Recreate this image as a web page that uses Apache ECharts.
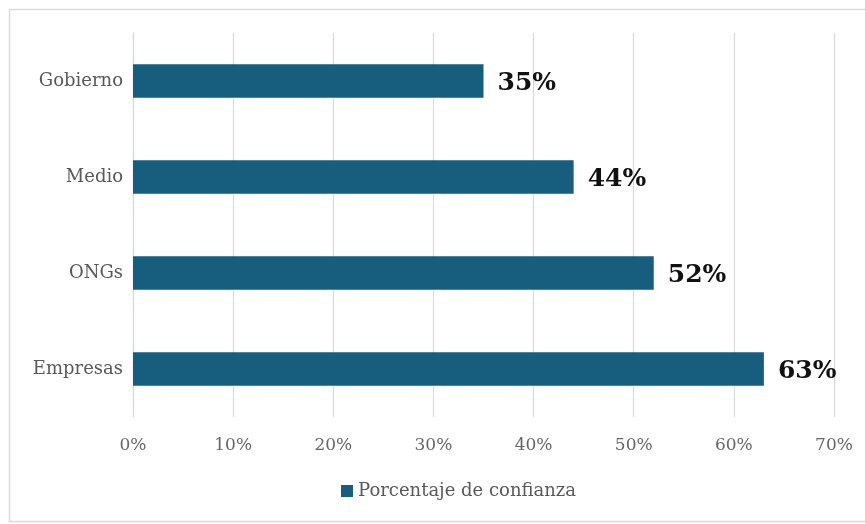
<!DOCTYPE html>
<html><head><meta charset="utf-8">
<script src="https://cdn.jsdelivr.net/npm/echarts@6/dist/echarts.min.js"></script>
<style>html,body{margin:0;padding:0;background:#fff}#c{width:865px;height:524px}</style>
</head><body><div id="c"></div>
<script>
const categories = ['Empresas', 'ONGs', 'Medio', 'Gobierno'];
const values = [63, 52, 44, 35];
const tickLabels = ['0%', '10%', '20%', '30%', '40%', '50%', '60%', '70%'];
const seriesName = 'Porcentaje de confianza';

const chart = echarts.init(document.getElementById('c'));
chart.setOption({
  animation: false,
  backgroundColor: '#fff',
  graphic: [{
    type: 'rect', left: 7, top: 7,
    shape: { width: 870, height: 512 },
    style: { fill: 'none', stroke: '#d9d9d9', lineWidth: 1.5 }
  }],
  legend: {
    data: [seriesName], bottom: 19, left: 336,
    icon: 'rect', itemWidth: 12, itemHeight: 12, itemGap: 4,
    textStyle: { fontFamily: 'DejaVu Serif', fontSize: 18, color: '#595959' }
  },
  grid: { left: 133, right: 31, top: 33, bottom: 107, containLabel: false },
  xAxis: {
    type: 'value', min: 0, max: 70, interval: 10,
    axisLine: { show: false }, axisTick: { show: false },
    splitLine: { lineStyle: { color: '#d9d9d9', width: 1.2 } },
    axisLabel: {
      margin: 20, fontFamily: 'DejaVu Serif', fontSize: 17, color: '#666',
      formatter: v => tickLabels[Math.round(v / 10)]
    }
  },
  yAxis: {
    type: 'category', data: categories,
    axisLine: { show: true, lineStyle: { color: '#d9d9d9', width: 1.2 } },
    axisTick: { show: false },
    axisLabel: { margin: 10, fontFamily: 'DejaVu Serif', fontSize: 18, color: '#595959' }
  },
  series: [{
    name: seriesName, type: 'bar', data: values, barWidth: '35%',
    itemStyle: { color: '#175E7E' },
    label: {
      show: true, position: 'right', distance: 14, offset: [0, 2],
      formatter: p => p.value + '%',
      fontFamily: 'DejaVu Serif', fontWeight: 'bold', fontSize: 25, color: '#111'
    }
  }]
});
</script></body></html>
